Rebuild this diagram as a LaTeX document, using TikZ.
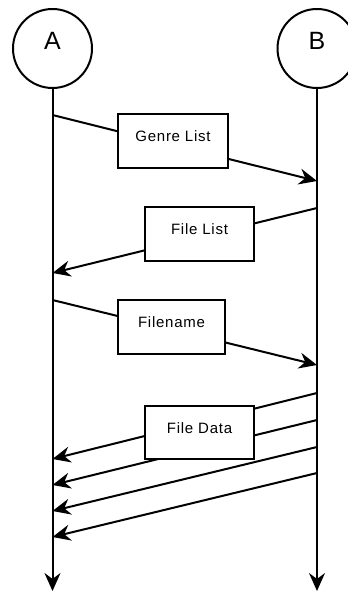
\documentclass[tikz,border=0pt]{standalone}
\usepackage{fontspec}
\setmainfont{Liberation Sans}
\usetikzlibrary{arrows.meta}
\begin{document}
\begin{tikzpicture}[x=1pt,y=-1pt,
  line/.style={line width=2pt, line join=miter},
  arr/.style={line, -{Stealth[length=18pt,width=16pt,inset=6pt]}},
  actor/.style={draw, line width=2pt, circle, minimum size=79pt, inner sep=0pt},
  msg/.style={draw, line width=2pt, fill=white, inner sep=0pt},
  boxtext/.style={font=\fontsize{15pt}{17pt}\selectfont\addfontfeature{LetterSpace=5}},
  actortext/.style={font=\fontsize{25pt}{28pt}\selectfont}]
\useasboundingbox (0,0) rectangle (348,592);
\begin{scope}
\clip (0,0) rectangle (348,592);
\node[actor] (A) at (52.5,48.5) {};
\node[actor] (B) at (317,48.5) {};
\end{scope}
\node[actortext] (At) at (52.5,40.5) {A};
\node[actortext] (Bt) at (317,40.5) {B};
% lifeline ends
\coordinate (Aend) at (52.5,591);
\coordinate (Bend) at (317,591);
\draw[arr] (A.south) -- (Aend);
\draw[arr] (B.south) -- (Bend);
% message points
\coordinate (a1) at (52.5,115);
\coordinate (b1) at (317,181);
\coordinate (b2) at (317,208);
\coordinate (a2) at (52.5,273);
\coordinate (a3) at (52.5,300);
\coordinate (b3) at (317,365);
\coordinate (b4) at (317,393);
\coordinate (a4) at (52.5,459);
\coordinate (b5) at (317,420);
\coordinate (a5) at (52.5,485);
\coordinate (b6) at (317,447);
\coordinate (a6) at (52.5,511);
\coordinate (b7) at (317,473);
\coordinate (a7) at (52.5,537);
\draw[arr] (a1) -- (b1);
\draw[arr] (b2) -- (a2);
\draw[arr] (a3) -- (b3);
\draw[arr] (b4) -- (a4);
\draw[arr] (b5) -- (a5);
\draw[arr] (b6) -- (a6);
\draw[arr] (b7) -- (a7);
% boxes
\node[msg, minimum width=110pt, minimum height=54pt] (m1) at (173,141) {};
\node[boxtext] (m1t) at (173,136.5) {Genre List};
\node[msg, minimum width=109pt, minimum height=54pt] (m2) at (199.5,234) {};
\node[boxtext] (m2t) at (199.5,229.5) {File List};
\node[msg, minimum width=107pt, minimum height=54pt] (m3) at (171.5,327) {};
\node[boxtext] (m3t) at (171.5,322.5) {Filename};
\node[msg, minimum width=109pt, minimum height=53pt] (m4) at (199.5,432.5) {};
\node[boxtext] (m4t) at (199.5,428) {File Data};
\end{tikzpicture}
\end{document}
